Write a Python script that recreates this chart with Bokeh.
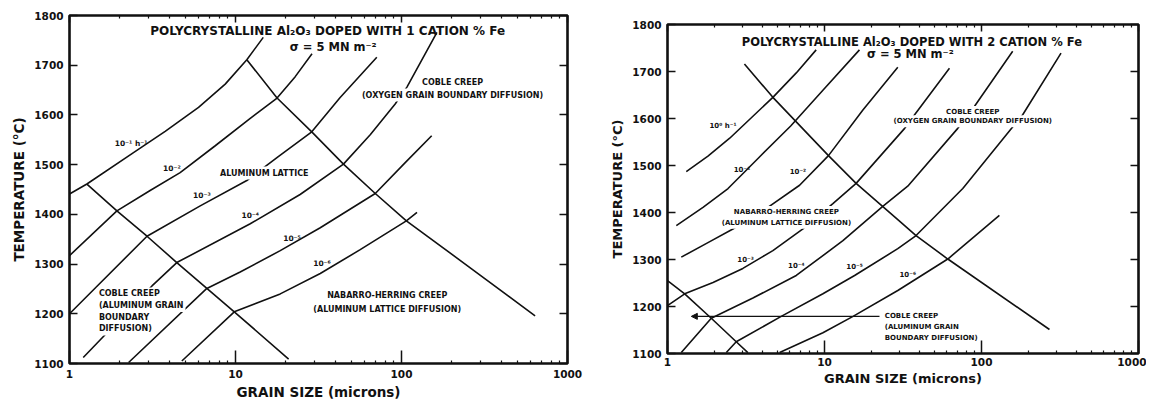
from bokeh.plotting import figure
from bokeh.layouts import row, column
from bokeh.models import (Range1d, LogAxis, LinearAxis, FixedTicker, Label, Arrow,
                          NormalHead, NumeralTickFormatter, Spacer)
from bokeh.embed import file_html
from bokeh.resources import INLINE

# ---------------- tick values ----------------
X_TICKS = [1, 10, 100, 1000]
X_MINOR = [2, 3, 4, 5, 6, 7, 8, 9, 20, 30, 40, 50, 60, 70, 80, 90,
           200, 300, 400, 500, 600, 700, 800, 900]
Y_TICKS = [1100, 1200, 1300, 1400, 1500, 1600, 1700, 1800]

# ---------------- left panel: 1 cation % Fe (grain size um, temperature C) ----------------
L1_d = [1.0, 1.273, 2.38, 3.77, 5.99, 8.67, 11.7, 14.7]
L1_t = [1441, 1461, 1522, 1567, 1615, 1662, 1711, 1756]
L2_d = [1.0, 1.93, 3.06, 4.64, 7.55, 12.27, 17.8, 22.9, 28.9]
L2_t = [1317, 1407, 1448, 1484, 1538, 1593, 1634, 1677, 1723]
L3_d = [1.0, 2.93, 6.13, 11.7, 18.1, 28.8, 42.7, 71.0]
L3_t = [1200, 1356, 1417, 1468, 1516, 1566, 1635, 1716]
L4_d = [1.21, 3.14, 4.43, 12.27, 24.5, 44.7, 64.8, 91.6, 107.8, 163.5]
L4_t = [1112, 1256, 1303, 1381, 1440, 1501, 1560, 1622, 1656, 1766]
L5_d = [2.27, 6.72, 10.67, 18.6, 32.4, 69.5, 105.3, 152.0]
L5_t = [1102, 1251, 1284, 1327, 1373, 1442, 1504, 1558]
L6_d = [4.75, 9.83, 18.6, 32.4, 56.4, 107.0, 124.0]
L6_t = [1105, 1204, 1240, 1281, 1329, 1387, 1404]
LB1_d = [1.273, 1.93, 2.93, 4.43, 6.72, 9.83, 20.9]
LB1_t = [1461, 1407, 1356, 1303, 1251, 1204, 1109]
LB2_d = [11.7, 17.8, 28.8, 44.7, 69.5, 107.0, 265.6, 638.0]
LB2_t = [1711, 1634, 1566, 1501, 1442, 1387, 1290, 1196]

# ---------------- right panel: 2 cation % Fe ----------------
R0_d = [1.317, 1.81, 2.49, 4.69, 6.61, 8.85]
R0_t = [1487, 1520, 1558, 1645, 1697, 1746]
R1_d = [1.138, 1.683, 2.43, 3.77, 6.09, 9.77, 16.7]
R1_t = [1372, 1411, 1451, 1515, 1584, 1660, 1746]
R2_d = [1.224, 1.81, 2.61, 4.36, 6.94, 10.6, 17.56, 29.3]
R2_t = [1305, 1336, 1365, 1411, 1458, 1521, 1618, 1709]
R3_d = [1.0, 1.287, 1.95, 3.02, 4.69, 7.29, 11.31, 15.9, 32.4, 37.5, 62.5]
R3_t = [1202, 1227, 1251, 1281, 1319, 1365, 1419, 1462, 1579, 1608, 1707]
R4_d = [1.224, 1.90, 3.50, 6.61, 13.1, 23.5, 33.9, 70.6, 90.3, 158.0]
R4_t = [1102, 1175, 1218, 1266, 1340, 1413, 1456, 1579, 1626, 1743]
R5_d = [2.37, 2.74, 5.30, 9.77, 15.55, 29.3, 38.3, 76.0, 156.0, 183.0, 321.0]
R5_t = [1102, 1125, 1179, 1227, 1266, 1323, 1351, 1451, 1580, 1608, 1739]
R6_d = [5.18, 9.77, 15.2, 29.3, 61.0, 130.0]
R6_t = [1102, 1144, 1179, 1234, 1301, 1394]
RB1_d = [1.0, 1.287, 1.90, 2.74, 3.25]
RB1_t = [1255, 1227, 1175, 1125, 1102]
RB2_d = [3.09, 4.69, 10.6, 15.9, 29.3, 38.3, 61.0, 271.0]
RB2_t = [1716, 1645, 1521, 1462, 1385, 1351, 1301, 1151]

LEFT_CURVES = [(L1_d, L1_t), (L2_d, L2_t), (L3_d, L3_t), (L4_d, L4_t), (L5_d, L5_t),
               (L6_d, L6_t), (LB1_d, LB1_t), (LB2_d, LB2_t)]
RIGHT_CURVES = [(R0_d, R0_t), (R1_d, R1_t), (R2_d, R2_t), (R3_d, R3_t), (R4_d, R4_t),
                (R5_d, R5_t), (R6_d, R6_t), (RB1_d, RB1_t), (RB2_d, RB2_t)]

FONT = "DejaVu Sans"
INK = "#111111"


def panel(fw, fh, bl, bt, br, bb, tick_std, xlab_std, ylab_std, lab_size):
    p = figure(x_axis_type="log", x_range=Range1d(1, 1000), y_range=Range1d(1100, 1800),
               frame_width=fw, frame_height=fh, min_border_left=bl, min_border_top=bt,
               min_border_right=br, min_border_bottom=bb, output_backend="svg",
               toolbar_location=None, background_fill_color="white",
               border_fill_color="white", title=None)
    p.grid.visible = False
    p.outline_line_color = INK
    p.outline_line_width = 2.6

    xa = p.xaxis[0]
    xa.ticker = FixedTicker(ticks=X_TICKS, minor_ticks=X_MINOR)
    xa.formatter = NumeralTickFormatter(format="0")
    xa.axis_label = "GRAIN SIZE (microns)"
    ya = p.yaxis[0]
    ya.ticker = FixedTicker(ticks=Y_TICKS)
    ya.axis_label = "TEMPERATURE (°C)"
    for ax in (xa, ya):
        ax.axis_line_color = None
        ax.major_tick_out = 0
        ax.minor_tick_out = 0
        ax.major_tick_line_width = 1.5
        ax.minor_tick_line_width = 1.2
        ax.major_tick_line_color = INK
        ax.minor_tick_line_color = INK
        ax.major_label_text_font = FONT
        ax.major_label_text_font_style = "bold"
        ax.major_label_text_font_size = "10.5px"
        ax.major_label_text_color = INK
        ax.axis_label_text_font = FONT
        ax.axis_label_text_font_style = "bold"
        ax.axis_label_text_font_size = lab_size
        ax.axis_label_text_color = INK
    xa.major_tick_in = 13
    xa.minor_tick_in = 3
    xa.major_label_standoff = tick_std
    xa.axis_label_standoff = xlab_std
    ya.major_tick_in = 8
    ya.minor_tick_in = 0
    ya.major_label_standoff = 6
    ya.axis_label_standoff = ylab_std

    top = LogAxis(ticker=FixedTicker(ticks=X_TICKS, minor_ticks=X_MINOR),
                  major_tick_in=7, major_tick_out=0, minor_tick_in=3, minor_tick_out=0,
                  major_tick_line_width=1.5, minor_tick_line_width=1.2,
                  major_tick_line_color=INK, minor_tick_line_color=INK,
                  major_label_text_font_size="1px", major_label_text_alpha=0,
                  major_label_standoff=0, axis_line_color=None)
    p.add_layout(top, "above")
    rgt = LinearAxis(ticker=FixedTicker(ticks=Y_TICKS),
                     major_tick_in=8, major_tick_out=0, minor_tick_in=0, minor_tick_out=0,
                     major_tick_line_width=1.5, major_tick_line_color=INK,
                     major_label_text_font_size="1px", major_label_text_alpha=0,
                     major_label_standoff=0, axis_line_color=None)
    p.add_layout(rgt, "right")
    return p


def lab(p, x, y, text, size, align="center", mask=False):
    kw = dict(x=x, y=y, text=text, text_font=FONT, text_font_style="bold",
              text_font_size=size, text_color=INK, text_align=align,
              text_baseline="middle")
    if mask:
        kw.update(background_fill_color="white", background_fill_alpha=1.0, padding=2)
    p.add_layout(Label(**kw))


# ---------------- left figure ----------------
p1 = panel(498, 348, 69, 15, 40, 39, 6, 3, 4, "13.5px")
for d, t in LEFT_CURVES:
    p1.line(d, t, line_color=INK, line_width=1.6)

lab(p1, 35.9, 1768, "POLYCRYSTALLINE Al₂O₃ DOPED WITH 1 CATION % Fe", "12px")
lab(p1, 38.8, 1736, "σ = 5 MN m⁻²", "11.5px")
lab(p1, 2.35, 1542, "10⁻¹ h⁻¹", "7.5px")
lab(p1, 4.14, 1493, "10⁻²", "7.5px")
lab(p1, 6.28, 1438, "10⁻³", "7.5px")
lab(p1, 12.27, 1397, "10⁻⁴", "7.5px")
lab(p1, 21.9, 1352, "10⁻⁵", "7.5px")
lab(p1, 33.2, 1301, "10⁻⁶", "7.5px")
lab(p1, 14.9, 1483, "ALUMINUM LATTICE", "8px", mask=True)
lab(p1, 203, 1666, "COBLE CREEP", "8px", mask=True)
lab(p1, 203, 1640, "(OXYGEN GRAIN BOUNDARY DIFFUSION)", "8px", mask=True)
lab(p1, 82, 1236, "NABARRO-HERRING CREEP", "8px", mask=True)
lab(p1, 82, 1209, "(ALUMINUM LATTICE DIFFUSION)", "8px", mask=True)
for i, s in enumerate(["COBLE CREEP", "(ALUMINUM GRAIN", "BOUNDARY", "DIFFUSION)"]):
    lab(p1, 1.462, 1240 - 23.5 * i, s, "8px", align="left", mask=True)

# ---------------- right figure ----------------
p2 = panel(471, 329, 58, 15, 8, 39, 4, 2, 4, "13px")
for d, t in RIGHT_CURVES:
    p2.line(d, t, line_color=INK, line_width=1.6)

lab(p2, 36.0, 1762, "POLYCRYSTALLINE Al₂O₃ DOPED WITH 2 CATION % Fe", "11.5px")
lab(p2, 35.2, 1737, "σ = 5 MN m⁻²", "11.5px")
lab(p2, 2.256, 1585, "10⁰ h⁻¹", "7px")
lab(p2, 2.98, 1490, "10⁻¹", "7px")
lab(p2, 6.77, 1487, "10⁻²", "7px")
lab(p2, 3.14, 1299, "10⁻³", "7px")
lab(p2, 6.61, 1287, "10⁻⁴", "7px")
lab(p2, 15.55, 1284, "10⁻⁵", "7px")
lab(p2, 33.9, 1266, "10⁻⁶", "7px")
lab(p2, 5.72, 1401, "NABARRO-HERRING CREEP", "7px", mask=True)
lab(p2, 5.72, 1378, "(ALUMINUM LATTICE DIFFUSION)", "7px", mask=True)
lab(p2, 88, 1614, "COBLE CREEP", "7px", mask=True)
lab(p2, 88, 1594, "(OXYGEN GRAIN BOUNDARY DIFFUSION)", "7px", mask=True)
for i, s in enumerate(["COBLE CREEP", "(ALUMINUM GRAIN", "BOUNDARY DIFFUSION)"]):
    lab(p2, 23.5, 1180.5 - 24.2 * i, s, "7px", align="left", mask=True)
p2.add_layout(Arrow(end=NormalHead(size=6, fill_color=INK, line_color=INK),
                    x_start=22.4, y_start=1179, x_end=1.418, y_end=1179,
                    line_color=INK, line_width=1.3))

layout = row(p1, column(Spacer(width=537, height=9), p2))
open("out.html", "w").write(file_html(layout, INLINE))
